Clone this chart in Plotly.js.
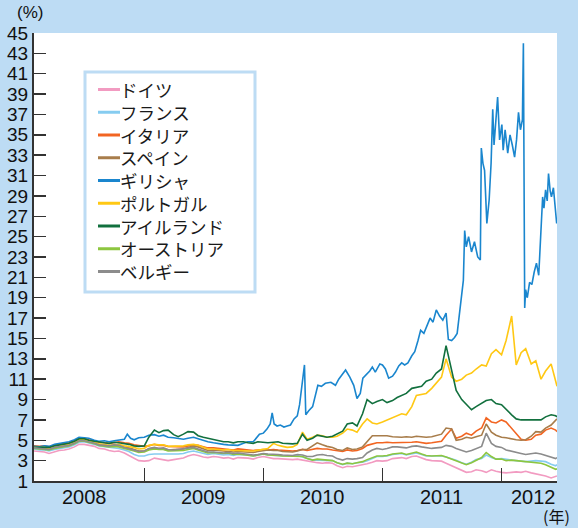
<!DOCTYPE html>
<html>
<head>
<meta charset="utf-8">
<script src="https://cdn.plot.ly/plotly-3.0.1.min.js"></script>
<style>html,body{margin:0;padding:0;background:#BDDCF4;}#chart{width:578px;height:528px;}</style>
</head>
<body>
<div id="chart"></div>
<script>
// ---------- data ----------
const seriesNames = ["ドイツ","フランス","イタリア","スペイン","ギリシャ","ポルトガル","アイルランド","オーストリア","ベルギー"];
const seriesColors = ["#F29BC1","#86CCF0","#F26522","#A87D4B","#1A86CE","#FFC814","#12703E","#8DC63F","#8C8C8C"];

const dates = [
"2008-01-29","2008-02-15","2008-03-01","2008-03-15","2008-04-01","2008-04-15","2008-05-01","2008-05-15","2008-06-01","2008-06-15","2008-07-01","2008-07-15","2008-08-01","2008-08-15","2008-09-01","2008-09-15","2008-10-01","2008-10-15","2008-11-01","2008-11-15","2008-12-01","2008-12-15",
"2009-01-01","2009-01-15","2009-02-01","2009-02-15","2009-03-01","2009-03-15","2009-04-01","2009-04-15","2009-05-01","2009-05-15","2009-06-01","2009-06-15","2009-07-01","2009-07-15","2009-08-01","2009-08-15","2009-09-01","2009-09-15","2009-10-01","2009-10-15","2009-11-01","2009-11-15","2009-12-01","2009-12-15",
"2010-01-01","2010-01-15","2010-02-01","2010-02-15","2010-03-01","2010-03-15","2010-04-01","2010-04-15","2010-05-01","2010-05-15","2010-06-01","2010-06-15","2010-07-01","2010-07-15","2010-08-01","2010-08-15","2010-09-01","2010-09-15","2010-10-01","2010-10-15","2010-11-01","2010-11-15","2010-12-01","2010-12-15",
"2011-01-01","2011-01-15","2011-02-01","2011-02-15","2011-03-01","2011-03-15","2011-04-01","2011-04-15","2011-05-01","2011-05-15","2011-06-01","2011-06-15","2011-07-01","2011-07-15","2011-08-01","2011-08-15","2011-09-01","2011-09-15","2011-10-01","2011-10-15","2011-11-01","2011-11-15","2011-12-01","2011-12-15",
"2012-01-01","2012-01-15","2012-02-01","2012-02-15","2012-03-01","2012-03-15","2012-04-01","2012-04-15","2012-05-01","2012-05-15","2012-06-01","2012-06-15","2012-06-19"];

const germany = [
3.95,3.9,3.85,3.7,3.9,4.0,4.05,4.15,4.35,4.6,4.6,4.5,4.4,4.2,4.15,4.0,3.9,3.95,3.75,3.5,3.2,3.0,
2.95,3.0,3.25,3.15,3.05,3.0,3.1,3.2,3.25,3.45,3.6,3.5,3.35,3.3,3.4,3.35,3.25,3.3,3.15,3.3,3.3,3.25,3.15,3.3,
3.4,3.3,3.2,3.2,3.15,3.1,3.1,3.15,3.05,2.95,2.85,2.8,2.75,2.8,2.75,2.5,2.3,2.45,2.4,2.5,2.55,2.7,2.85,3.0,
2.95,3.0,3.2,3.25,3.3,3.2,3.4,3.45,3.25,3.1,3.0,3.0,2.95,2.75,2.5,2.3,2.0,1.85,1.9,2.1,2.0,1.85,2.1,1.95,
1.85,1.8,1.85,1.9,1.85,1.95,1.8,1.7,1.65,1.5,1.3,1.45,1.5];

const france = [
4.15,4.05,4.05,3.95,4.1,4.2,4.3,4.35,4.55,4.8,4.85,4.75,4.6,4.45,4.4,4.3,4.3,4.2,4.05,3.9,3.6,3.45,
3.45,3.6,3.65,3.65,3.65,3.6,3.6,3.65,3.7,3.85,3.95,3.85,3.7,3.6,3.7,3.65,3.55,3.6,3.5,3.6,3.6,3.55,3.45,3.55,
3.65,3.55,3.5,3.5,3.45,3.45,3.45,3.5,3.35,3.2,3.05,3.05,3.05,3.05,3.0,2.8,2.6,2.75,2.7,2.8,2.85,3.0,3.2,3.4,
3.4,3.45,3.6,3.65,3.7,3.55,3.7,3.75,3.6,3.45,3.45,3.45,3.45,3.35,3.2,3.05,2.8,2.65,2.85,3.1,3.2,3.55,3.3,3.15,
3.2,3.1,3.05,3.0,2.95,2.9,2.95,3.0,2.95,2.9,2.65,2.5,2.6];

const italy = [
4.45,4.4,4.45,4.35,4.5,4.6,4.65,4.75,4.95,5.15,5.2,5.05,4.95,4.8,4.75,4.7,4.75,4.85,4.75,4.7,4.55,4.45,
4.4,4.45,4.6,4.5,4.5,4.4,4.4,4.4,4.35,4.45,4.55,4.5,4.4,4.25,4.25,4.2,4.15,4.15,4.05,4.15,4.1,4.05,4.0,4.05,
4.1,4.05,4.1,4.05,4.0,3.95,3.95,4.0,4.1,4.0,4.15,4.2,4.15,4.15,4.05,3.95,3.9,4.05,3.95,4.0,4.2,4.5,4.65,4.75,
4.75,4.8,4.75,4.75,4.8,4.8,4.8,4.85,4.75,4.7,4.75,4.8,4.9,5.5,6.1,5.2,5.4,5.7,5.5,5.9,6.2,7.2,6.8,6.7,
7.0,6.8,6.2,5.6,5.1,5.0,5.1,5.5,5.6,6.0,6.2,6.0,5.85];

const spain = [
4.3,4.2,4.25,4.15,4.3,4.4,4.45,4.55,4.75,5.0,5.0,4.9,4.75,4.6,4.55,4.45,4.5,4.5,4.3,4.25,4.1,3.95,
3.95,4.15,4.25,4.2,4.15,4.05,4.1,4.1,4.15,4.3,4.45,4.35,4.15,4.0,4.05,4.0,3.95,3.95,3.85,3.9,3.85,3.8,3.8,3.9,
4.0,4.05,4.0,4.0,3.9,3.85,3.85,3.95,4.1,4.1,4.5,4.75,4.55,4.4,4.3,4.1,4.0,4.25,4.1,4.15,4.35,4.9,5.45,5.45,
5.45,5.45,5.35,5.3,5.3,5.35,5.3,5.4,5.35,5.3,5.35,5.5,5.6,6.2,6.1,5.0,5.1,5.3,5.2,5.35,5.5,6.6,5.8,5.5,
5.3,5.25,5.1,5.05,5.0,5.05,5.4,5.85,5.8,6.2,6.5,6.9,7.1];

const portugal = [
4.3,4.25,4.3,4.2,4.35,4.45,4.5,4.6,4.8,5.05,5.05,4.95,4.8,4.65,4.6,4.5,4.55,4.6,4.45,4.4,4.3,4.15,
4.2,4.5,4.6,4.55,4.55,4.4,4.4,4.4,4.45,4.55,4.6,4.5,4.35,4.15,4.15,4.1,4.05,4.1,4.0,4.0,3.95,3.95,3.95,4.05,
4.1,4.2,4.7,4.5,4.4,4.3,4.35,4.6,5.8,5.1,5.3,5.5,5.45,5.3,5.3,5.4,5.7,6.1,6.0,5.8,6.6,7.1,6.7,6.6,
6.8,7.0,7.2,7.4,7.6,7.5,8.3,9.4,9.5,9.6,10.1,10.6,11.2,13.0,11.2,10.8,11.0,11.4,11.6,12.0,12.4,12.3,13.5,13.9,
13.4,14.8,17.2,12.4,13.6,14.0,12.5,12.8,11.0,11.8,12.5,10.8,10.3];

const ireland = [
4.3,4.3,4.35,4.3,4.45,4.55,4.6,4.7,4.9,5.15,5.15,5.0,4.9,4.8,4.75,4.7,4.8,4.75,4.7,4.6,4.45,4.4,
4.45,5.3,6.0,5.75,5.95,6.0,5.55,5.35,5.6,5.85,5.8,5.45,5.3,5.2,5.05,4.95,4.85,4.85,4.75,4.85,4.85,4.75,4.7,4.85,
4.8,4.75,4.8,4.85,4.7,4.65,4.65,4.7,5.6,5.0,5.2,5.5,5.4,5.3,5.4,5.6,5.9,6.6,6.7,6.4,7.6,9.0,8.6,8.8,
9.0,8.7,8.9,9.2,9.4,9.6,10.1,10.2,10.3,10.8,11.0,11.6,12.0,14.3,11.8,9.9,9.0,8.5,8.0,8.3,8.6,8.9,9.0,8.6,
8.5,8.0,7.5,7.1,7.0,7.0,7.0,7.0,7.0,7.3,7.5,7.4,7.3];

const austria = [
4.2,4.15,4.15,4.05,4.2,4.3,4.4,4.45,4.65,4.9,4.9,4.8,4.65,4.5,4.45,4.35,4.4,4.35,4.2,4.1,3.95,3.8,
3.85,4.05,4.15,4.1,4.1,3.95,3.95,4.0,4.0,4.1,4.2,4.05,3.9,3.75,3.8,3.75,3.7,3.75,3.6,3.65,3.6,3.55,3.45,3.55,
3.65,3.55,3.55,3.5,3.45,3.45,3.45,3.45,3.4,3.2,3.05,3.15,3.1,3.05,3.0,2.8,2.65,2.75,2.7,2.8,2.9,3.1,3.3,3.45,
3.45,3.5,3.65,3.7,3.75,3.6,3.75,3.85,3.65,3.5,3.45,3.5,3.5,3.35,3.15,2.95,2.75,2.6,2.8,3.05,3.3,3.8,3.4,3.15,
3.15,3.0,3.05,3.0,2.95,2.9,2.9,2.85,2.75,2.6,2.35,2.15,2.2];

const belgium = [
4.25,4.2,4.2,4.1,4.3,4.35,4.45,4.5,4.7,4.95,4.95,4.85,4.7,4.55,4.5,4.45,4.55,4.5,4.3,4.15,4.05,3.9,
3.95,4.2,4.3,4.2,4.25,4.1,4.05,4.1,4.15,4.2,4.3,4.15,4.0,3.85,3.85,3.8,3.75,3.8,3.7,3.75,3.7,3.65,3.55,3.6,
3.7,3.65,3.65,3.6,3.55,3.55,3.5,3.6,3.55,3.4,3.4,3.55,3.6,3.5,3.45,3.2,3.05,3.2,3.15,3.2,3.3,3.75,4.05,4.2,
4.1,4.2,4.35,4.35,4.3,4.25,4.4,4.45,4.35,4.25,4.2,4.25,4.3,4.5,4.4,4.2,4.0,3.85,4.0,4.2,4.4,5.7,4.7,4.4,
4.3,4.05,3.9,3.8,3.7,3.6,3.65,3.75,3.65,3.5,3.3,3.2,3.3];

// Greece has its own, denser dates (volatile)
const greeceDates = [
"2008-01-29","2008-02-15","2008-03-01","2008-03-15","2008-04-01","2008-04-15","2008-05-01","2008-05-15","2008-06-01","2008-06-15","2008-07-01","2008-07-15","2008-08-01","2008-08-15","2008-09-01","2008-09-15","2008-10-01","2008-10-15","2008-11-01","2008-11-10","2008-11-20","2008-12-01","2008-12-15",
"2009-01-01","2009-01-15","2009-02-01","2009-02-15","2009-03-01","2009-03-15","2009-04-01","2009-04-15","2009-05-01","2009-05-15","2009-06-01","2009-06-15","2009-07-01","2009-07-15","2009-08-01","2009-08-15","2009-09-01","2009-09-15","2009-10-01","2009-10-15","2009-11-01","2009-11-15","2009-12-01","2009-12-10","2009-12-20",
"2010-01-01","2010-01-12","2010-01-22","2010-01-28","2010-02-03","2010-02-12","2010-02-22","2010-03-05","2010-03-15","2010-03-25","2010-04-05","2010-04-15","2010-04-22","2010-04-28","2010-05-07","2010-05-11","2010-05-20","2010-06-01","2010-06-10","2010-06-17","2010-06-28","2010-07-10","2010-07-27","2010-08-10","2010-08-20","2010-08-30","2010-09-10","2010-09-23","2010-10-05","2010-10-15","2010-10-25","2010-11-02","2010-11-12","2010-11-23","2010-12-01","2010-12-10","2010-12-24",
"2011-01-01","2011-01-10","2011-01-20","2011-02-01","2011-02-10","2011-02-20","2011-03-01","2011-03-10","2011-03-20","2011-04-01","2011-04-10","2011-04-20","2011-04-28","2011-05-08","2011-05-18","2011-05-27","2011-06-05","2011-06-15","2011-06-25","2011-07-05","2011-07-15","2011-07-22","2011-08-01","2011-08-10","2011-08-18","2011-08-28","2011-09-06","2011-09-10","2011-09-15","2011-09-22","2011-10-01","2011-10-10","2011-10-20","2011-10-28","2011-10-31","2011-11-05","2011-11-10","2011-11-17","2011-11-24","2011-11-30","2011-12-05","2011-12-09","2011-12-14","2011-12-20","2011-12-26",
"2012-01-02","2012-01-06","2012-01-12","2012-01-20","2012-01-27","2012-02-03","2012-02-10","2012-02-16","2012-02-22","2012-02-28","2012-03-05","2012-03-08","2012-03-12","2012-03-15","2012-03-20","2012-03-27","2012-04-03","2012-04-10","2012-04-17","2012-04-24","2012-05-01","2012-05-06","2012-05-10","2012-05-15","2012-05-20","2012-05-24","2012-05-29","2012-06-02","2012-06-08","2012-06-14","2012-06-18","2012-06-19"];

const greece = [
4.4,4.35,4.45,4.4,4.6,4.7,4.75,4.85,5.05,5.3,5.25,5.2,5.0,4.9,4.95,4.85,4.95,5.05,5.1,5.6,5.2,5.05,5.25,
5.3,5.5,5.55,5.4,5.5,5.3,5.25,5.15,5.1,5.2,5.3,5.15,4.95,4.85,4.75,4.65,4.6,4.55,4.5,4.5,4.7,4.85,4.85,5.2,5.6,
5.7,6.1,6.6,7.7,6.6,6.4,6.5,6.3,6.4,6.5,7.1,7.4,8.5,9.9,12.4,7.5,7.9,8.3,9.5,10.4,10.3,10.6,10.7,10.4,11.0,11.4,11.9,11.2,10.4,9.1,9.6,11.1,11.4,11.8,12.2,11.7,12.5,
12.4,12.0,11.1,11.3,11.7,12.3,12.6,12.4,12.6,13.3,13.7,14.8,15.8,15.5,16.3,17.0,16.6,17.8,17.2,16.8,17.5,14.9,14.8,15.1,15.5,18.3,20.7,25.6,24.0,25.0,23.5,24.5,23.0,22.7,33.7,32.2,31.5,26.3,28.6,32.2,37.5,34.0,36.5,38.7,34.5,
36.0,33.5,35.5,33.2,35.0,34.0,32.8,34.5,37.2,35.5,36.5,44.0,18.0,19.8,19.0,20.5,20.3,21.5,22.4,21.2,25.6,28.9,27.8,29.6,28.5,31.2,29.5,28.9,29.8,27.5,26.3,26.8];

const yTickVals = [1,3,5,7,9,11,13,15,17,19,21,23,25,27,29,31,33,35,37,39,41,43,45];
const yearDividers = ["2009-01-01","2010-01-01","2011-01-01","2012-01-01"];
const yearLabels = ["2008","2009","2010","2011","2012"];
const yearLabelDates = ["2008-07-01","2009-07-01","2010-07-01","2011-07-01","2012-04-08"];

// ---------- build ----------
const W = 578, H = 528, L = 34, R = 557, T = 33, B = 481;
const px = x => (x - L) / (R - L);
const py = y => (B - y) / (B - T);

const xsByIndex = [dates, dates, dates, dates, greeceDates, dates, dates, dates, dates];
const ysByIndex = [germany, france, italy, spain, greece, portugal, ireland, austria, belgium];

const traces = seriesNames.map((n, i) => ({
  type: 'scatter', mode: 'lines', name: n,
  x: xsByIndex[i], y: ysByIndex[i],
  line: {color: seriesColors[i], width: 1.6},
  hoverinfo: 'skip'
}));

const rowGap = 22.75, row0 = 89.5;
const shapes = [{
  type: 'rect', xref: 'paper', yref: 'paper',
  x0: px(85), x1: px(255), y0: py(292), y1: py(72),
  line: {color: '#BDDCF4', width: 3}, fillcolor: '#FFFFFF', layer: 'above'
}];
seriesNames.forEach((n, i) => {
  const yc = row0 + i * rowGap;
  shapes.push({type: 'line', xref: 'paper', yref: 'paper',
    x0: px(98), x1: px(120), y0: py(yc), y1: py(yc),
    line: {color: seriesColors[i], width: 3}, layer: 'above'});
});
const annotations = [];
// legend labels as one multi-line text block (line pitch = 1.3 x font size)
annotations.push({xref: 'paper', yref: 'paper', x: px(119), y: py(row0 + 4 * rowGap),
  xanchor: 'left', yanchor: 'middle', align: 'left', showarrow: false, borderpad: 0,
  text: seriesNames.join('<br>'),
  font: {family: 'Noto Sans CJK JP', size: rowGap / 1.3, color: '#1a1a1a'}});
yearLabels.forEach((t, i) => {
  annotations.push({xref: 'x', yref: 'paper', x: yearLabelDates[i], y: py(497),
    xanchor: 'center', yanchor: 'middle', showarrow: false, text: t,
    font: {family: 'Liberation Sans, Arial, sans-serif', size: 20, color: '#111'}});
});
annotations.push({xref: 'paper', yref: 'paper', x: px(30), y: py(12), xanchor: 'center', yanchor: 'middle',
  showarrow: false, text: '(%)', borderpad: 0, font: {family: 'Liberation Sans, Arial, sans-serif', size: 17, color: '#111'}});
annotations.push({xref: 'paper', yref: 'paper', x: px(556), y: py(516), xanchor: 'center', yanchor: 'middle',
  showarrow: false, text: '(年)', borderpad: 0, font: {family: 'Noto Sans CJK JP', size: 16, color: '#111'}});

const layout = {
  width: W, height: H,
  margin: {l: L, r: W - R, t: T, b: H - B, pad: 0},
  paper_bgcolor: '#BDDCF4', plot_bgcolor: '#FFFFFF',
  showlegend: false,
  xaxis: {type: 'date', range: ['2008-01-29', '2012-06-19'], tickmode: 'array', tickvals: yearDividers,
    ticks: 'inside', ticklen: 13, tickwidth: 1.5, tickcolor: '#333', showticklabels: false,
    showline: true, linecolor: '#333', linewidth: 2, showgrid: false, zeroline: false, fixedrange: true},
  yaxis: {range: [1, 45], tickmode: 'array', tickvals: yTickVals, ticktext: yTickVals.map(String),
    ticks: 'inside', ticklen: 12, tickwidth: 1.5, tickcolor: '#333',
    showline: true, linecolor: '#333', linewidth: 2, showgrid: false, zeroline: false, fixedrange: true,
    tickfont: {family: 'Liberation Sans, Arial, sans-serif', size: 19, color: '#111'}},
  shapes: shapes, annotations: annotations
};

Plotly.newPlot('chart', traces, layout, {staticPlot: true, displayModeBar: false});
</script>
</body>
</html>
